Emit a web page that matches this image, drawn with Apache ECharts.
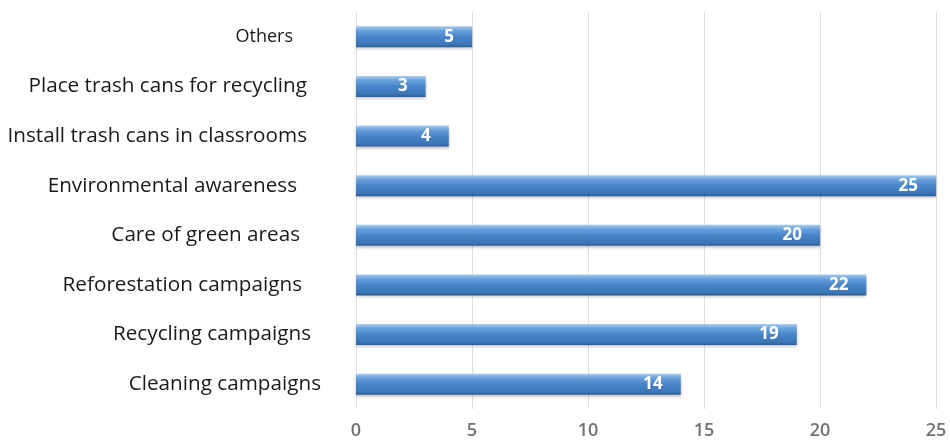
<!DOCTYPE html>
<html><head><meta charset="utf-8">
<script src="https://cdn.jsdelivr.net/npm/echarts@6/dist/echarts.min.js"></script>
<style>html,body{margin:0;padding:0;background:#fff}#c{width:950px;height:443px}</style>
</head><body><div id="c"></div>
<script>
const categories = ['Cleaning campaigns','Recycling campaigns','Reforestation campaigns','Care of green areas','Environmental awareness','Install trash cans in classrooms','Place trash cans for recycling','Others'];
const values = [14, 19, 22, 20, 25, 4, 3, 5];
const xTicks = [0, 5, 10, 15, 20, 25];

const labelPad = {'Cleaning campaigns':0,'Recycling campaigns':10,'Reforestation campaigns':19,'Care of green areas':21,'Environmental awareness':24,'Install trash cans in classrooms':14,'Place trash cans for recycling':14,'Others':28};

const chart = echarts.init(document.getElementById('c'));
chart.setOption({
  animation: false,
  backgroundColor: '#fff',
  grid: {left: 356, right: 14, top: 12, bottom: 34, containLabel: false},
  xAxis: {
    type: 'value', min: xTicks[0], max: xTicks[xTicks.length-1], interval: 5,
    axisLine: {show: false}, axisTick: {show: false},
    splitLine: {show: true, lineStyle: {color: '#dedede', width: 1}},
    axisLabel: {color: '#727272', fontSize: 18, fontWeight: 600, fontFamily: 'Open Sans', margin: 13}
  },
  yAxis: {
    type: 'category',
    data: categories.map(c => ({value: c, textStyle: {
      fontSize: c === 'Others' ? 18 : 20.7,
      padding: [0, labelPad[c], 0, 0]
    }})),
    axisLine: {show: false}, axisTick: {show: false},
    axisLabel: {color: '#1a1a1a', fontFamily: 'Open Sans', margin: 35}
  },
  series: [{
    type: 'bar', data: values, barWidth: 21,
    itemStyle: {
      color: new echarts.graphic.LinearGradient(0, 0, 0, 1, [
        {offset: 0, color: '#a9cdf0'},
        {offset: 0.2, color: '#6aa2dc'},
        {offset: 0.5, color: '#4884c8'},
        {offset: 0.85, color: '#3d77b7'},
        {offset: 1, color: '#2c5e97'}
      ]),
      shadowColor: 'rgba(0,0,0,0.25)', shadowBlur: 3, shadowOffsetY: 2
    },
    label: {show: true, position: 'insideRight', distance: 18, color: '#fff', fontWeight: 'bold', fontSize: 17, fontFamily: 'Open Sans'}
  }]
});
</script></body></html>
